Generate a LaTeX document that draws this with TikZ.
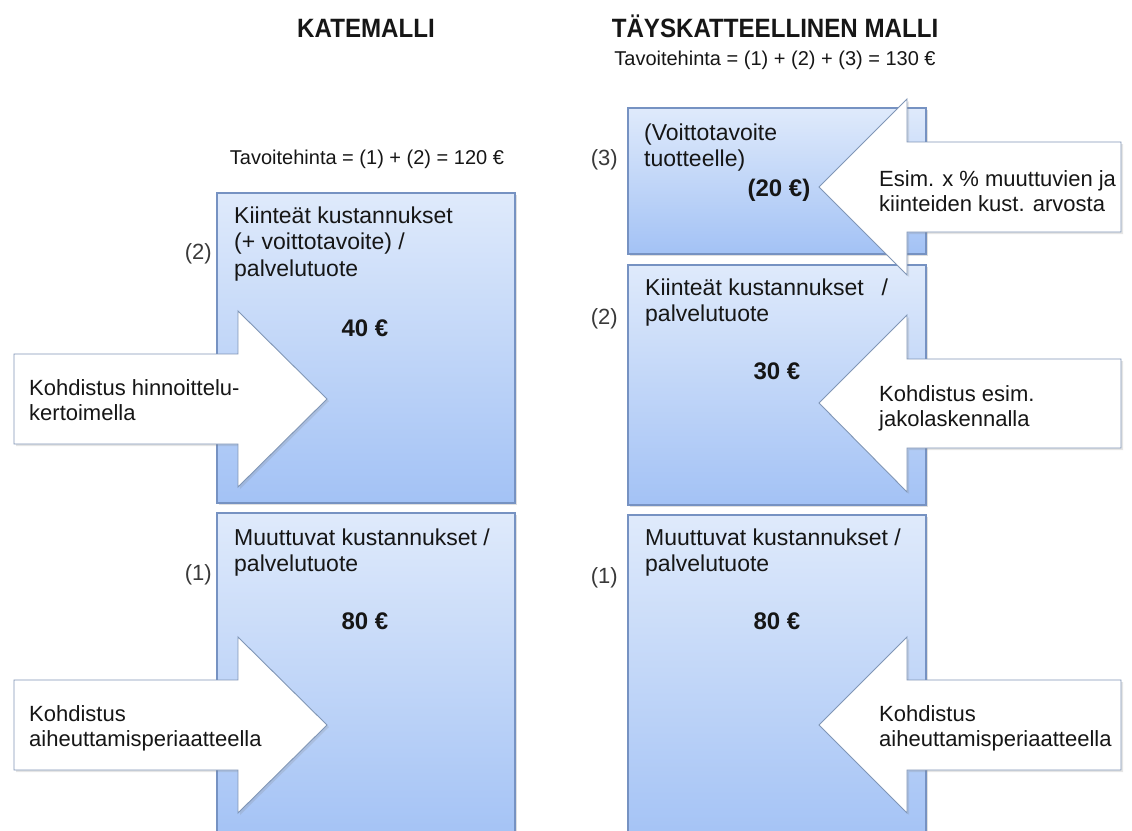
\documentclass[tikz,border=0pt]{standalone}
\usepackage{fontspec}
\setmainfont{Liberation Sans}
\newfontfamily\headfont[FakeStretch=0.91]{Liberation Sans}
\usetikzlibrary{shadows}

\definecolor{boxtop}{RGB}{223,234,251}
\definecolor{boxbot}{RGB}{163,194,245}
\definecolor{boxedge}{RGB}{118,146,194}
\definecolor{arrowedge}{RGB}{128,150,182}
\definecolor{ink}{RGB}{22,22,22}

\begin{document}
\begin{tikzpicture}[x=1pt,y=-1pt,
  costbox/.style={draw=boxedge, line width=1.1pt, top color=boxtop, bottom color=boxbot,
    rectangle, inner sep=0pt, outer sep=0pt, anchor=north west,
    drop shadow={shadow xshift=1.6pt, shadow yshift=-1.6pt, opacity=0.25}},
  blockarrow/.style={draw=arrowedge, line width=0.9pt, fill=white, line join=miter,
    drop shadow={shadow xshift=2pt, shadow yshift=-2pt, opacity=0.2}},
  % multi-line texts are placed by the baseline of their last line
  boxtext/.style={font=\fontsize{23}{26.5}\selectfont, text=ink, anchor=base west,
    align=left, inner sep=0pt},
  arrowtext/.style={font=\fontsize{22}{25.3}\selectfont, text=ink, anchor=base west,
    align=left, inner sep=0pt},
  amount/.style={font=\bfseries\fontsize{24}{28}\selectfont, text=ink, anchor=base, inner sep=0pt},
  partno/.style={font=\fontsize{22}{25}\selectfont, text=ink!85, anchor=base east, inner sep=0pt},
  heading/.style={font=\headfont\bfseries\fontsize{26.5}{30}\selectfont, text=ink, anchor=base, inner sep=0pt},
  formula/.style={font=\fontsize{20}{24}\selectfont, text=ink, anchor=base, inner sep=0pt}
]
\useasboundingbox[fill=white] (0,0) rectangle (1132,830);

% ---- cost blocks ----
\node[costbox, minimum width=298pt, minimum height=310pt] (fixL) at (217,193) {};
\node[costbox, minimum width=298pt, minimum height=330pt] (varL) at (217,513) {};
\node[costbox, minimum width=298pt, minimum height=146pt] (profR) at (628,108) {};
\node[costbox, minimum width=298pt, minimum height=240pt] (fixR) at (628,265) {};
\node[costbox, minimum width=298pt, minimum height=330pt] (varR) at (628,515) {};

% ---- allocation arrows, left model (pointing right) ----
\draw[blockarrow] (14,354) -- (238,354) -- (238,311) -- (327,399) -- (238,487)
  -- (238,444) -- (14,444) -- cycle;
\draw[blockarrow] (14,680) -- (238,680) -- (238,637) -- (327,725) -- (238,813)
  -- (238,770) -- (14,770) -- cycle;

% ---- allocation arrows, right model (pointing left) ----
\draw[blockarrow] (1121,142) -- (907,142) -- (907,99) -- (819,187) -- (907,275)
  -- (907,232) -- (1121,232) -- cycle;
\draw[blockarrow] (1121,359) -- (907,359) -- (907,315) -- (819,403) -- (907,492)
  -- (907,448) -- (1121,448) -- cycle;
\draw[blockarrow] (1121,680) -- (907,680) -- (907,637) -- (819,725) -- (907,813)
  -- (907,770) -- (1121,770) -- cycle;

% ---- headings ----
\node[heading] (titleL) at (366,37.5) {KATEMALLI};
\node[heading] (titleR) at (775,37.5) {TÄYSKATTEELLINEN MALLI};
\node[formula] (priceR) at (775,65) {Tavoitehinta = (1) + (2) + (3) = 130 €};
\node[formula] (priceL) at (367,164) {Tavoitehinta = (1) + (2) = 120 €};

% ---- left model texts ----
\node[boxtext] (fixLtxt) at (234,276) {Kiinteät kustannukset\\(+ voittotavoite) /\\palvelutuote};
\node[amount] (fixLsum) at (365,336) {40 €};
\node[partno] (fixLno) at (212,259) {(2)};
\node[boxtext] (varLtxt) at (234,571.5) {Muuttuvat kustannukset /\\palvelutuote};
\node[amount] (varLsum) at (365,629) {80 €};
\node[partno] (varLno) at (212,580) {(1)};
\node[arrowtext] (allocL1) at (29,420.3) {Kohdistus hinnoittelu-\\kertoimella};
\node[arrowtext] (allocL2) at (29,746.3) {Kohdistus\\aiheuttamisperiaatteella};

% ---- right model texts ----
\node[boxtext] (profRtxt) at (644,166.5) {(Voittotavoite\\tuotteelle)};
\node[amount] (profRsum) at (779,196) {(20 €)};
\node[partno] (profRno) at (618,165) {(3)};
\node[boxtext] (fixRtxt) at (645,321.5) {Kiinteät kustannukset\hspace{0.5em} /\\palvelutuote};
\node[amount] (fixRsum) at (777,379) {30 €};
\node[partno] (fixRno) at (618,324) {(2)};
\node[boxtext] (varRtxt) at (645,571.5) {Muuttuvat kustannukset /\\palvelutuote};
\node[amount] (varRsum) at (777,629) {80 €};
\node[partno] (varRno) at (618,583) {(1)};
\node[arrowtext] (allocR1) at (879,211.3) {Esim. x \% muuttuvien ja\\kiinteiden kust. arvosta};
\node[arrowtext] (allocR2) at (879,426.3) {Kohdistus esim.\\jakolaskennalla};
\node[arrowtext] (allocR3) at (879,746.3) {Kohdistus\\aiheuttamisperiaatteella};
\end{tikzpicture}
\end{document}
